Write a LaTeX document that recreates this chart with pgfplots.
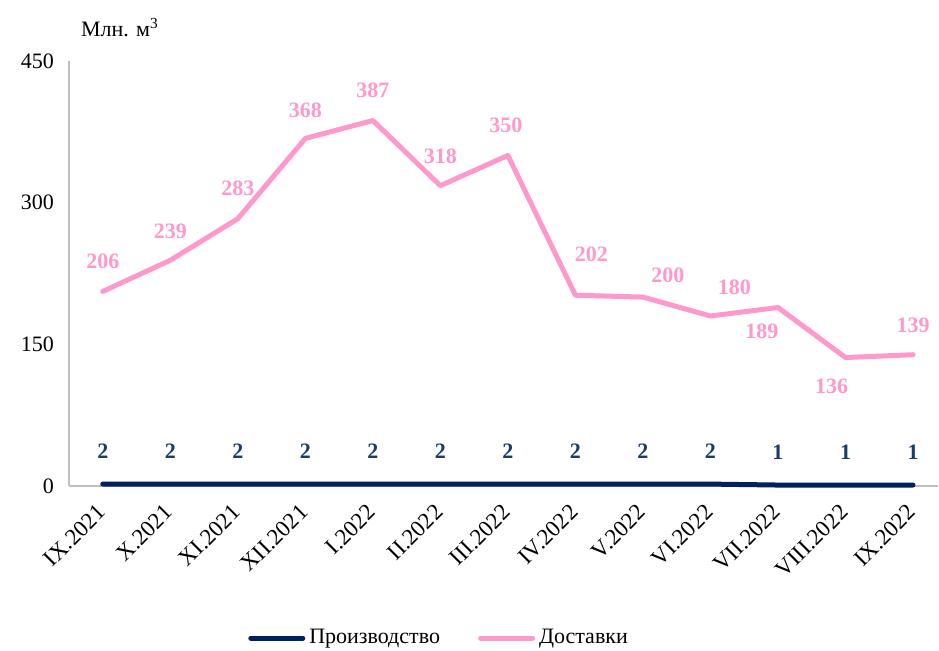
\documentclass[border=0pt]{standalone}
\usepackage{pgfplots}
\pgfplotsset{compat=1.18}
\usepackage{pgfplotstable}
\usepackage{fontspec}
\setmainfont{Liberation Serif}
\definecolor{pinkc}{RGB}{255,153,204}
\definecolor{navyc}{RGB}{0,32,96}
\definecolor{navylab}{RGB}{25,60,110}
\definecolor{axgray}{RGB}{191,191,191}
\pgfplotstableread{
x y dx dy
0 206 0 15
1 239 0 14.5
2 283 0 15
3 368 0 14
4 387 0 15
5 318 0 14.5
6 350 -1 15
7 202 8 20.5
8 200 12.5 11
9 180 12 14.5
10 189 -8 -12
11 136 -7 -14.5
12 139 0 14.5
}\dostavki
\pgfplotstableread{
x y
0 2
1 2
2 2
3 2
4 2
5 2
6 2
7 2
8 2
9 2
10 1
11 1
12 1
}\proizv
\begin{document}
\begin{tikzpicture}
\useasboundingbox (0,0) rectangle (469.5pt,325.5pt);
\begin{axis}[
  at={(34.5pt,82.5pt)}, anchor=south west,
  scale only axis, width=434.5pt, height=212.5pt,
  xmin=-0.5, xmax=12.37, ymin=0, ymax=450,
  ytick={0,150,300,450},
  xtick={0,...,12},
  xticklabels={IX.2021,X.2021,XI.2021,XII.2021,I.2022,II.2022,III.2022,IV.2022,V.2022,VI.2022,VII.2022,VIII.2022,IX.2022},
  x tick label style={xshift=-3.5pt, yshift=-3.5pt, rotate=45, anchor=north east, font=\fontsize{11.5}{13.5}\selectfont},
  y tick label style={font=\fontsize{11}{13}\selectfont, xshift=-4pt},
  /pgf/number format/assume math mode=true,
  axis x line*=bottom, axis y line*=left,
  axis line style={axgray, line width=0.6pt},
  major tick length=0pt,
  tick style={draw=none},
  clip=false,
  legend style={at={(0.427,-0.358)}, anchor=center, draw=none, legend columns=2,
    font=\fontsize{11}{13}\selectfont,
    /tikz/every even column/.append style={column sep=17pt}},
  legend image code/.code={\draw[#1] (0pt,0pt) -- (26pt,0pt);},
]
\addplot[navyc, line width=2.5pt, line cap=round,
  nodes near coords, point meta=explicit symbolic,
  nodes near coords style={anchor=center, yshift=16.5pt, text=navylab, font=\bfseries\fontsize{11}{13}\selectfont}]
  table[x=x, y=y, meta=y] {\proizv};
\addlegendentry{Производство}
\addplot[pinkc, line width=2.5pt, line join=round, line cap=round,
  nodes near coords, point meta=explicit symbolic,
  visualization depends on={\thisrow{dx} \as \dx},
  visualization depends on={\thisrow{dy} \as \dy},
  nodes near coords style={anchor=center, xshift=\dx pt, yshift=\dy pt, text=pinkc, font=\bfseries\fontsize{11}{13}\selectfont}]
  table[x=x, y=y, meta=y] {\dostavki};
\addlegendentry{Доставки}
\end{axis}
\node[font=\fontsize{11}{13}\selectfont] at (60pt,311.5pt) {Млн. м\textsuperscript{3}};
\end{tikzpicture}
\end{document}
